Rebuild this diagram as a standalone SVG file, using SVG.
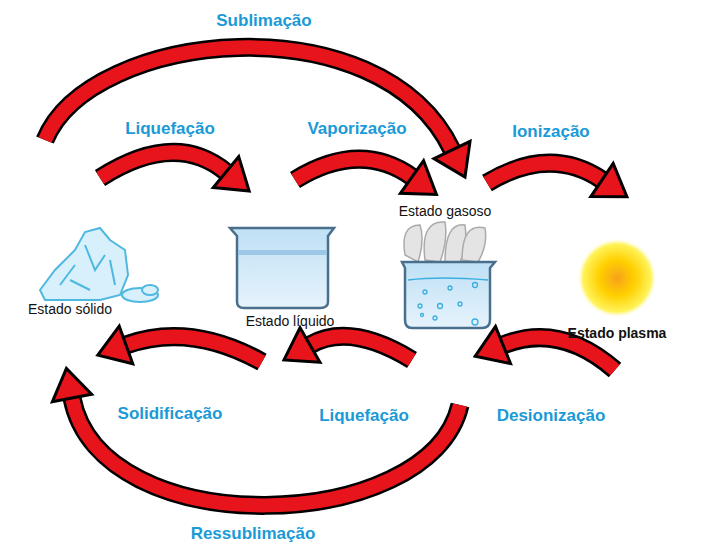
<svg xmlns="http://www.w3.org/2000/svg" width="718" height="555" viewBox="0 0 718 555">
<style>
.bo{fill:none;stroke:#000;stroke-width:19}
.br{fill:none;stroke:#e8141b;stroke-width:14;marker-end:url(#h)}
.lb{font-family:"Liberation Sans",Arial,sans-serif;font-weight:bold;font-size:17px;fill:#1a9ad6;text-anchor:middle}
.st{font-family:"Liberation Sans",Arial,sans-serif;font-size:14px;fill:#111;text-anchor:middle}
.ice{fill:#d8f0fb;stroke:#4fb8e0;stroke-width:2}
</style>
<defs>
<marker id="h" markerUnits="userSpaceOnUse" viewBox="-4 -28 44 56" refX="-2" refY="0" markerWidth="44" markerHeight="56" orient="auto">
<polygon points="-2,-20 28,0 -2,20" fill="#e8141b" stroke="#000" stroke-width="3"/>
</marker>
<radialGradient id="sun"><stop offset="0" stop-color="#f7a21a"/><stop offset="0.45" stop-color="#ffd000"/><stop offset="0.85" stop-color="#fff35a"/><stop offset="1" stop-color="#fff" stop-opacity="0"/></radialGradient>
<linearGradient id="wat" x1="0" y1="0" x2="0" y2="1"><stop offset="0" stop-color="#bfe0f5"/><stop offset="1" stop-color="#e6f3fc"/></linearGradient>
</defs>
<rect width="718" height="555" fill="#fff"/>
<g id="connectors">
<path class="bo" d="M45,140 C90,30 380,0 452,150"/><path class="br" d="M45,140 C90,30 380,0 452,150"/>
<path class="bo" d="M100,178 Q175,130 226,172"/><path class="br" d="M100,178 Q175,130 226,172"/>
<path class="bo" d="M295,180 Q360,140 412,177"/><path class="br" d="M295,180 Q360,140 412,177"/>
<path class="bo" d="M487,183 Q550,145 602,180"/><path class="br" d="M487,183 Q550,145 602,180"/>
<path class="bo" d="M262,362 Q190,322 126,345"/><path class="br" d="M262,362 Q190,322 126,345"/>
<path class="bo" d="M412,360 Q350,322 310,345"/><path class="br" d="M412,360 Q350,322 310,345"/>
<path class="bo" d="M615,370 Q560,322 503,345"/><path class="br" d="M615,370 Q560,322 503,345"/>
<path class="bo" d="M460,405 C430,535 100,545 72,398"/><path class="br" d="M460,405 C430,535 100,545 72,398"/>
</g>
<g id="labels">
<text class="lb" x="264" y="26">Sublimação</text>
<text class="lb" x="170" y="134">Liquefação</text>
<text class="lb" x="357" y="134">Vaporização</text>
<text class="lb" x="551" y="137">Ionização</text>
<text class="lb" x="170" y="419">Solidificação</text>
<text class="lb" x="364" y="421">Liquefação</text>
<text class="lb" x="551" y="421">Desionização</text>
<text class="lb" x="253" y="539">Ressublimação</text>
</g>
<g id="solid">
<polygon class="ice" points="40,290 55,270 75,250 85,232 100,228 110,240 125,250 128,275 120,295 100,300 70,300 45,300"/>
<path d="M60,285 L75,265 M85,245 L95,270 L105,255 M110,260 L115,285 M70,280 L90,290" stroke="#4fb8e0" stroke-width="2" fill="none"/>
<ellipse cx="140" cy="295" rx="18" ry="7" class="ice"/>
<ellipse cx="150" cy="290" rx="8" ry="5" class="ice"/>
<text class="st" x="70" y="314">Estado sólido</text>
</g>
<g id="liquid">
<path d="M230,228 L334,228 L328,236 L328,302 Q328,308 320,308 L244,308 Q237,308 237,302 L237,236 Z" fill="url(#wat)" stroke="#4a6f8c" stroke-width="2.5"/>
<rect x="238" y="250" width="89" height="5" fill="#9cc7e6"/>
<text class="st" x="290" y="326">Estado líquido</text>
</g>
<g id="gas">
<g fill="#e4e4e4" stroke="#aaa" stroke-width="1.5">
<path d="M405,255 Q400,225 420,225 Q425,240 418,262 Z"/>
<path d="M425,260 Q420,220 445,222 Q448,240 440,262 Z"/>
<path d="M445,262 Q445,222 465,225 Q468,245 460,262 Z"/>
<path d="M462,260 Q462,222 485,228 Q488,245 478,262 Z"/>
</g>
<path d="M402,262 L495,262 L490,268 L490,320 Q490,328 482,328 L412,328 Q405,328 405,320 L405,268 Z" fill="url(#wat)" stroke="#4a6f8c" stroke-width="2.5"/>
<g fill="none" stroke="#3aaee0" stroke-width="1.3">
<circle cx="425" cy="292" r="2"/><circle cx="450" cy="288" r="2"/><circle cx="475" cy="285" r="2.5"/><circle cx="420" cy="306" r="2"/><circle cx="440" cy="306" r="2.5"/><circle cx="460" cy="304" r="2"/><circle cx="475" cy="322" r="3"/><circle cx="435" cy="318" r="2"/><circle cx="422" cy="315" r="1.5"/>
<path d="M408,280 Q440,276 488,280"/>
</g>
<text class="st" x="445" y="216">Estado gasoso</text>
</g>
<g id="plasma">
<circle cx="617" cy="278" r="40" fill="url(#sun)"/>
<text class="st" x="617" y="338" style="font-weight:bold">Estado plasma</text>
</g>
</svg>
